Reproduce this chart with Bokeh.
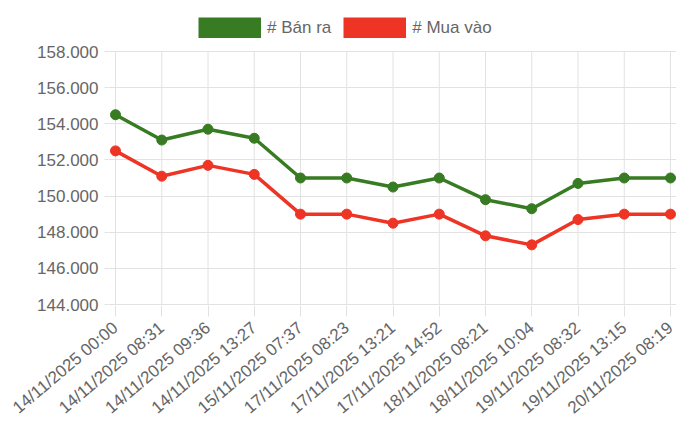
from bokeh.plotting import figure
from bokeh.models import Range1d, FixedTicker, CustomJSTickFormatter, Legend, LegendItem
from bokeh.embed import file_html
from bokeh.resources import INLINE

labels = ["14/11/2025 00:00", "14/11/2025 08:31", "14/11/2025 09:36", "14/11/2025 13:27",
          "15/11/2025 07:37", "17/11/2025 08:23", "17/11/2025 13:21", "17/11/2025 14:52",
          "18/11/2025 08:21", "18/11/2025 10:04", "19/11/2025 08:32", "19/11/2025 13:15",
          "20/11/2025 08:19"]
ban_ra = [154500, 153100, 153700, 153200, 151000, 151000, 150500, 151000, 149800, 149300, 150700, 151000, 151000]
mua_vao = [152500, 151100, 151700, 151200, 149000, 149000, 148500, 149000, 147800, 147300, 148700, 149000, 149000]
y_ticks = [144000, 146000, 148000, 150000, 152000, 154000, 156000, 158000]

GREEN = "#377b22"
RED = "#ee3424"
GRID = "#e2e2e2"
TXT = "#666666"
FONT = "Liberation Sans"

xs = list(range(len(labels)))
unit = 555 / 12.0
ypx = 14000 / 253.0

p = figure(frame_width=568, frame_height=295, output_backend="svg", toolbar_location=None,
           x_range=Range1d(-7 / unit, 12 + 6 / unit),
           y_range=Range1d(y_ticks[0] - ypx, y_ticks[-1] + 41 * ypx),
           min_border_left=108, min_border_right=24, min_border_top=10, min_border_bottom=131)
p.outline_line_color = None
p.background_fill_color = "white"
p.border_fill_color = "white"

p.xaxis.ticker = FixedTicker(ticks=xs)
p.xaxis.major_label_overrides = {i: l for i, l in enumerate(labels)}
p.xaxis.major_label_orientation = 0.70
p.yaxis.ticker = FixedTicker(ticks=y_ticks)
p.yaxis.formatter = CustomJSTickFormatter(code="return (tick/1000).toFixed(3);")

for ax in (p.xaxis[0], p.yaxis[0]):
    ax.axis_line_color = None
    ax.major_tick_line_color = GRID
    ax.minor_tick_line_color = None
    ax.major_tick_in = 0
    ax.major_label_text_color = TXT
    ax.major_label_text_font = FONT
    ax.major_label_text_font_size = "17px"
p.xaxis.major_tick_out = 11
p.xaxis.major_label_standoff = 9
p.yaxis.major_tick_out = 4
p.yaxis.major_label_standoff = 6

p.xgrid.grid_line_color = None
p.ygrid.ticker = FixedTicker(ticks=y_ticks)
p.ygrid.grid_line_color = GRID

# vertical grid lines limited to the value axis extent
p.segment(x0=xs, y0=[y_ticks[0]] * len(xs), x1=xs, y1=[y_ticks[-1]] * len(xs),
          line_color=GRID, line_width=1)

p.line(xs, ban_ra, line_color=GREEN, line_width=3.5)
p.scatter(xs, ban_ra, size=10, fill_color=GREEN, line_color=GREEN)
p.line(xs, mua_vao, line_color=RED, line_width=3.5)
p.scatter(xs, mua_vao, size=10, fill_color=RED, line_color=RED)

# legend-only renderers (a single point draws no visible line)
lg_g = p.line(xs[:1], ban_ra[:1], line_color=GREEN, line_width=21)
lg_r = p.line(xs[:1], mua_vao[:1], line_color=RED, line_width=21)

legend = Legend(items=[LegendItem(label="# Bán ra", renderers=[lg_g]),
                       LegendItem(label="# Mua vào", renderers=[lg_r])],
                orientation="horizontal", location=(90, 267),
                glyph_width=63, glyph_height=21, label_standoff=6, spacing=12,
                padding=0, margin=0, border_line_color=None, background_fill_alpha=0,
                label_text_font=FONT, label_text_font_size="17px", label_text_color=TXT,
                label_height=21)
p.add_layout(legend, "center")

open("out.html", "w").write(file_html(p, INLINE))
